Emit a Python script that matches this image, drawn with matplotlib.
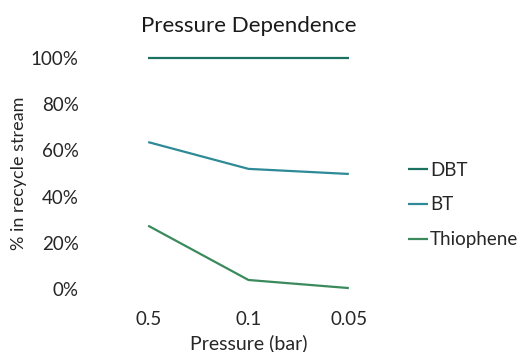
import matplotlib
matplotlib.use("Agg")
import matplotlib.pyplot as plt
from matplotlib.ticker import PercentFormatter

pressures = ["0.5", "0.1", "0.05"]
dbt = [1.00, 1.00, 1.00]
bt = [0.636, 0.52, 0.498]
thiophene = [0.274, 0.039, 0.004]

series_names = ["DBT", "BT", "Thiophene"]
series_colors = ["#1b7260", "#2e8a97", "#3a8a5c"]

plt.rcParams["font.family"] = ["Lato", "DejaVu Sans"]

fig = plt.figure(figsize=(5.18, 3.52), dpi=100)
ax = fig.add_axes([98 / 518, 63 / 352, 301 / 518, 231 / 352])

x = range(len(pressures))
for vals, name, col in zip([dbt, bt, thiophene], series_names, series_colors):
    ax.plot(x, vals, color=col, lw=1.6, label=name, clip_on=False,
            solid_capstyle="butt")

ax.set_xlim(-0.5, len(pressures) - 0.5)
ax.set_ylim(0, 1.0)
ax.set_yticks([0, 0.2, 0.4, 0.6, 0.8, 1.0])
ax.yaxis.set_major_formatter(PercentFormatter(1.0, decimals=0))
ax.set_xticks(list(x))
ax.set_xticklabels(pressures)

for s in ax.spines.values():
    s.set_visible(False)
ax.tick_params(length=0, labelsize=13.5, colors="#262626")
ax.tick_params(axis="y", pad=14)
ax.tick_params(axis="x", pad=16)

ax.set_xlabel("Pressure (bar)", fontsize=14, color="#262626", labelpad=4)
ax.set_ylabel("% in recycle stream", fontsize=13, color="#262626", labelpad=3)
ax.set_title("Pressure Dependence", fontsize=16, color="#1a1a1a", pad=19)

leg = ax.legend(loc="center left", bbox_to_anchor=(1.0, 0.364), frameon=False,
                fontsize=13.5, handlelength=1.05, handletextpad=0.1,
                labelspacing=0.95, borderaxespad=0.1)
for t in leg.get_texts():
    t.set_color("#262626")

fig.savefig("out.png", dpi=100)
